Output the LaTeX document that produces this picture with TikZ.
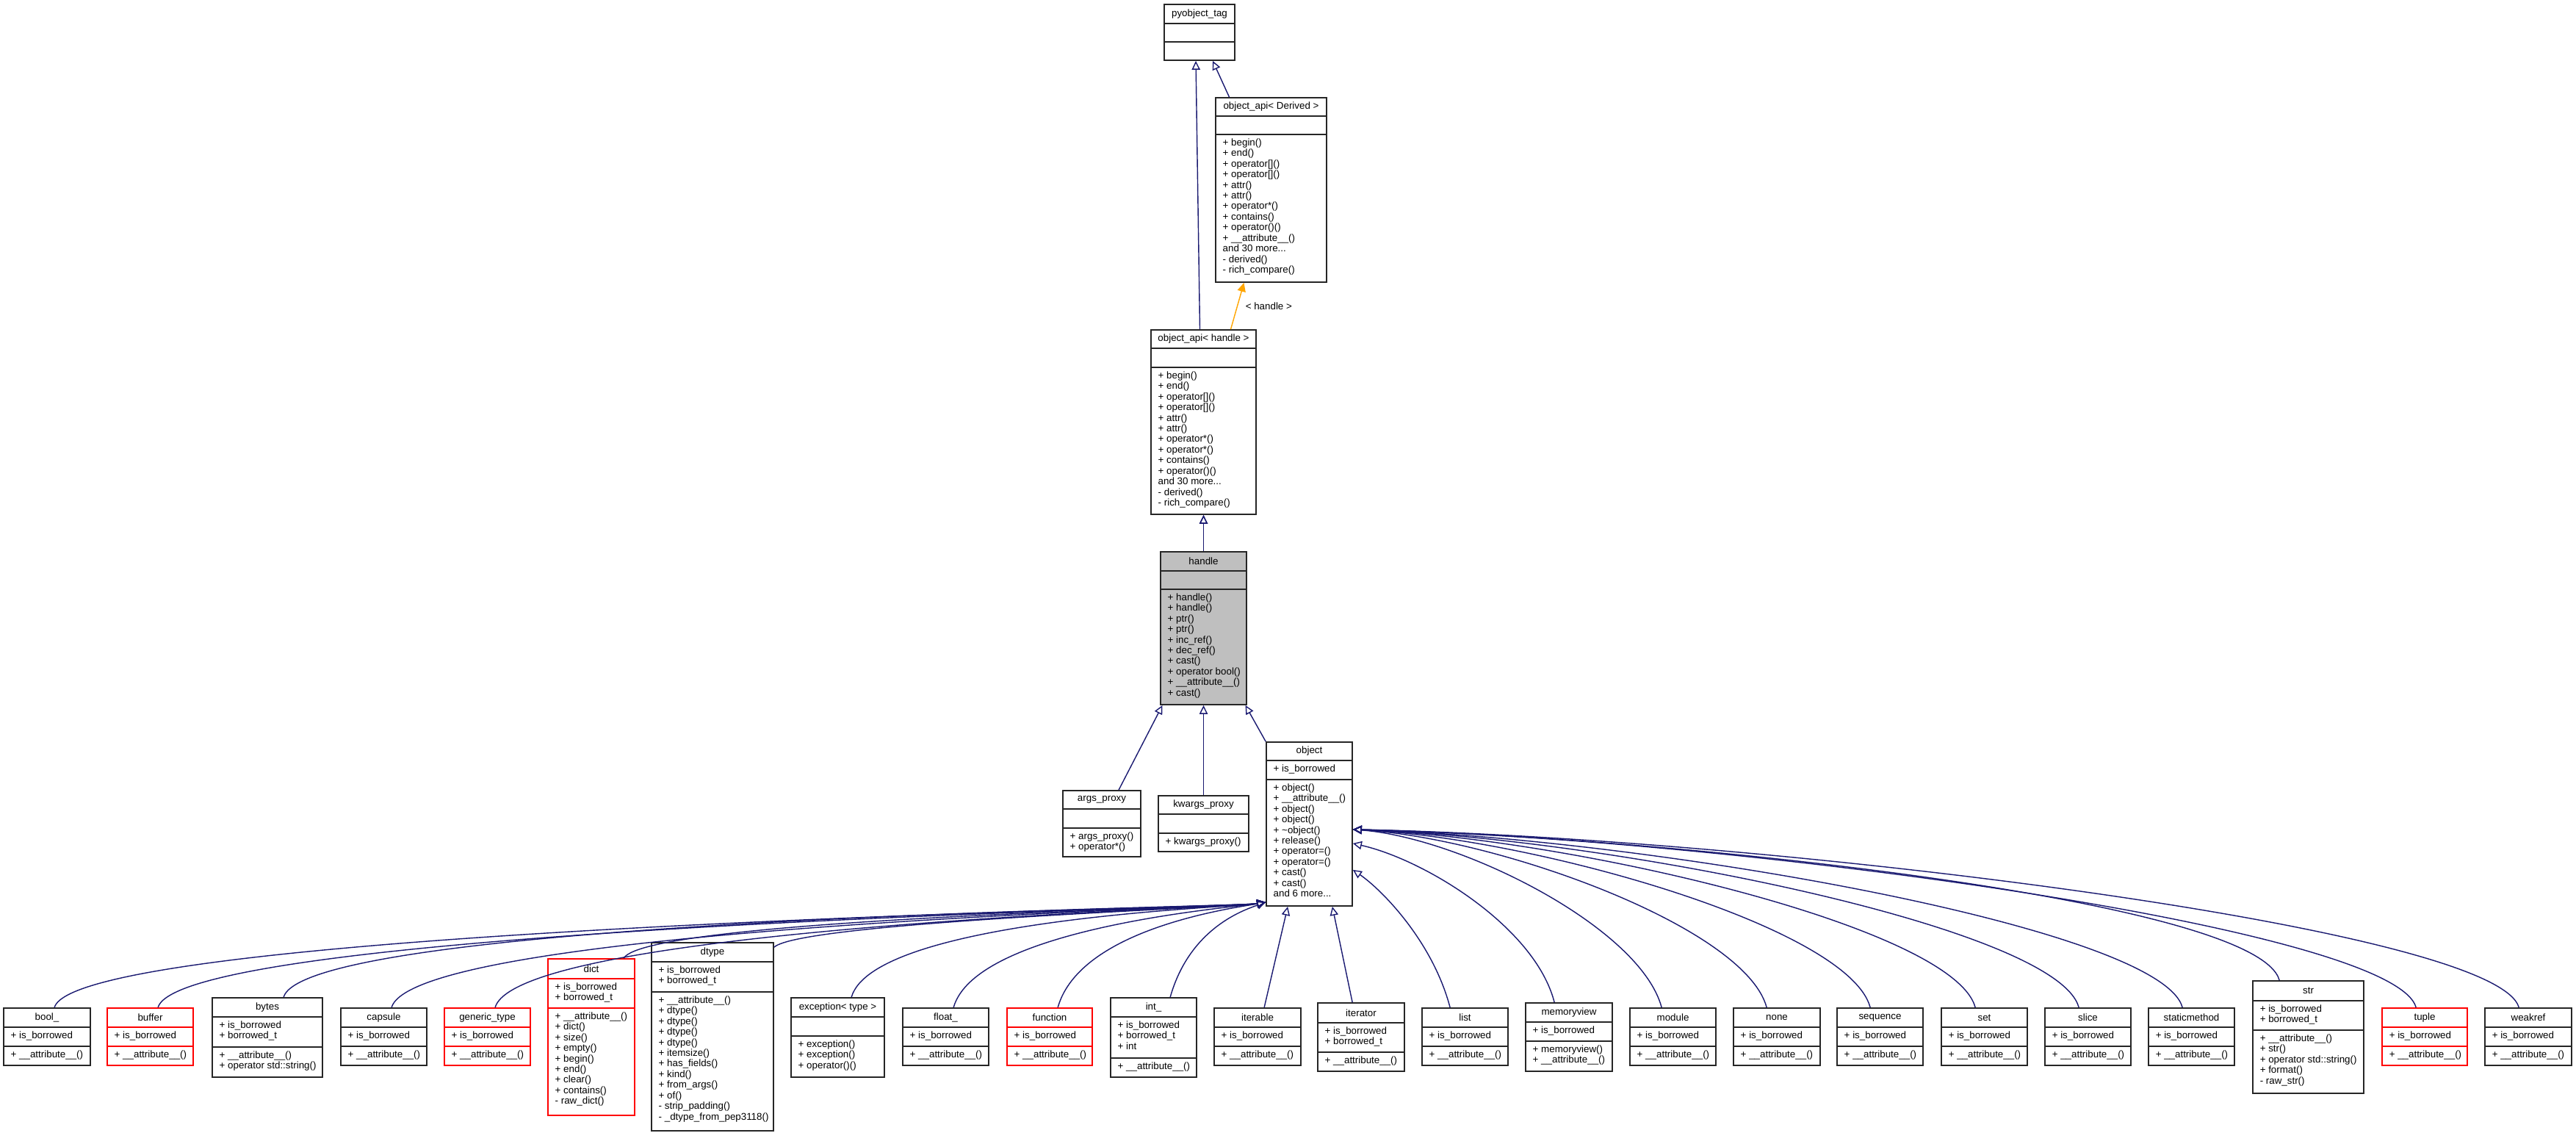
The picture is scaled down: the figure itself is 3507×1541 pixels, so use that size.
\documentclass[tikz,border=0pt]{standalone}
\usepackage{fontspec}
\setmainfont{Liberation Sans}
\usetikzlibrary{arrows.meta,fit}
\definecolor{edge}{HTML}{191970}
\definecolor{orng}{HTML}{FFA500}
\tikzset{
  bk/.style={draw=black!85, line width=0.5pt},
  rd/.style={draw=red, line width=0.5pt},
  hd/.style={draw=black!85, fill=black!25, line width=0.5pt},
  utitle/.style={inner sep=0, font=\fontsize{3.8}{4.1}\selectfont},
  umem/.style={anchor=north west, inner sep=0, align=left, font=\fontsize{3.8}{4.1}\selectfont},
  inh/.style={draw=edge, line width=0.4pt, -{Triangle[open,length=3.4pt,width=3.2pt]}},
  tmpl/.style={draw=orng, line width=0.4pt, -{Triangle[length=3.4pt,width=3.2pt]}},
}
\newcommand\ubox[9]{%
  \node[#8, inner sep=0, fit={(#2,#4)(#3,#7)}] (#1) {};
  \draw[#8, fill=none] (#2,#5) -- (#3,#5) (#2,#6) -- (#3,#6);
  \node[utitle] at ({(#2+#3)/2},{(#4+#5)/2}) {#9};
}
\newcommand\umem[3]{\node[umem] at (#1+9,#2+5) {#3};}
\newcommand\simple[5]{%
  \ubox{#1}{#2}{#3}{1372}{1398}{1424}{1450}{#4}{#5}
  \umem{#2}{1398}{+ is\_borrowed}
  \umem{#2}{1424}{+ \_\_attribute\_\_()}
}
\newcommand\inh[4]{\draw[inh] #1 .. controls #2 and #3 .. #4;}
\begin{document}
\begin{tikzpicture}[x=0.01cm,y=-0.01cm]
\useasboundingbox (0,0) rectangle (3507,1541);
% top
\ubox{pyo}{1585}{1681}{6}{32}{57}{82}{bk}{pyobject\_tag}
\ubox{apid}{1655}{1806}{133}{158}{183}{384}{bk}{object\_api< Derived >}
\umem{1655}{183}{+ begin()\\+ end()\\+ operator[]()\\+ operator[]()\\+ attr()\\+ attr()\\+ operator*()\\+ contains()\\+ operator()()\\+ \_\_attribute\_\_()\\and 30 more...\\- derived()\\- rich\_compare()}
\ubox{apih}{1567}{1710}{449}{474}{500}{700}{bk}{object\_api< handle >}
\umem{1567}{500}{+ begin()\\+ end()\\+ operator[]()\\+ operator[]()\\+ attr()\\+ attr()\\+ operator*()\\+ operator*()\\+ contains()\\+ operator()()\\and 30 more...\\- derived()\\- rich\_compare()}
\ubox{handle}{1580}{1697}{751}{777}{802}{959}{hd}{handle}
\umem{1580}{802}{+ handle()\\+ handle()\\+ ptr()\\+ ptr()\\+ inc\_ref()\\+ dec\_ref()\\+ cast()\\+ operator bool()\\+ \_\_attribute\_\_()\\+ cast()}
\ubox{args}{1447}{1553}{1076}{1101}{1127}{1166}{bk}{args\_proxy}
\umem{1447}{1127}{+ args\_proxy()\\+ operator*()}
\ubox{kwargs}{1577}{1700}{1083}{1108}{1134}{1159}{bk}{kwargs\_proxy}
\umem{1577}{1134}{+ kwargs\_proxy()}
\ubox{object}{1724}{1841}{1010}{1035}{1061}{1233}{bk}{object}
\umem{1724}{1035}{+ is\_borrowed}
\umem{1724}{1061}{+ object()\\+ \_\_attribute\_\_()\\+ object()\\+ object()\\+ \textasciitilde object()\\+ release()\\+ operator=()\\+ operator=()\\+ cast()\\+ cast()\\and 6 more...}
% bottom row
\simple{bool}{5}{123}{bk}{bool\_}
\simple{buffer}{146}{263}{rd}{buffer}
\ubox{bytes}{289}{439}{1358}{1384}{1425}{1466}{bk}{bytes}
\umem{289}{1384}{+ is\_borrowed\\+ borrowed\_t}
\umem{289}{1425}{+ \_\_attribute\_\_()\\+ operator std::string()}
\simple{capsule}{464}{581}{bk}{capsule}
\simple{generic}{605}{722}{rd}{generic\_type}
\ubox{dict}{746}{864}{1305}{1332}{1372}{1518}{rd}{dict}
\umem{746}{1332}{+ is\_borrowed\\+ borrowed\_t}
\umem{746}{1372}{+ \_\_attribute\_\_()\\+ dict()\\+ size()\\+ empty()\\+ begin()\\+ end()\\+ clear()\\+ contains()\\- raw\_dict()}
\ubox{dtype}{887}{1053}{1283}{1309}{1350}{1539}{bk}{dtype}
\umem{887}{1309}{+ is\_borrowed\\+ borrowed\_t}
\umem{887}{1350}{+ \_\_attribute\_\_()\\+ dtype()\\+ dtype()\\+ dtype()\\+ dtype()\\+ itemsize()\\+ has\_fields()\\+ kind()\\+ from\_args()\\+ of()\\- strip\_padding()\\- \_dtype\_from\_pep3118()}
\ubox{exception}{1077}{1204}{1358}{1384}{1410}{1466}{bk}{exception< type >}
\umem{1077}{1410}{+ exception()\\+ exception()\\+ operator()()}
\simple{float}{1229}{1346}{bk}{float\_}
\simple{function}{1371}{1487}{rd}{function}
\ubox{int}{1512}{1629}{1358}{1384}{1440}{1466}{bk}{int\_}
\umem{1512}{1384}{+ is\_borrowed\\+ borrowed\_t\\+ int}
\umem{1512}{1440}{+ \_\_attribute\_\_()}
\simple{iterable}{1653}{1771}{bk}{iterable}
\ubox{iterator}{1794}{1912}{1365}{1392}{1432}{1458}{bk}{iterator}
\umem{1794}{1392}{+ is\_borrowed\\+ borrowed\_t}
\umem{1794}{1432}{+ \_\_attribute\_\_()}
\simple{list}{1936}{2053}{bk}{list}
\ubox{memoryview}{2077}{2195}{1365}{1391}{1417}{1458}{bk}{memoryview}
\umem{2077}{1391}{+ is\_borrowed}
\umem{2077}{1417}{+ memoryview()\\+ \_\_attribute\_\_()}
\simple{module}{2219}{2336}{bk}{module}
\simple{none}{2360}{2478}{bk}{none}
\simple{sequence}{2501}{2618}{bk}{sequence}
\simple{set}{2643}{2760}{bk}{set}
\simple{slice}{2784}{2901}{bk}{slice}
\simple{staticmethod}{2925}{3042}{bk}{staticmethod}
\ubox{str}{3067}{3218}{1335}{1362}{1402}{1488}{bk}{str}
\umem{3067}{1362}{+ is\_borrowed\\+ borrowed\_t}
\umem{3067}{1402}{+ \_\_attribute\_\_()\\+ str()\\+ operator std::string()\\+ format()\\- raw\_str()}
\simple{tuple}{3243}{3359}{rd}{tuple}
\simple{weakref}{3383}{3501}{bk}{weakref}
% upper edges
\draw[inh] ([shift={(-5,0)}]apih.north) -- ([shift={(-5,0)}]pyo.south);
\draw[inh] ([shift={(-57,0)}]apid.north) -- ([shift={(18,0)}]pyo.south);
\draw[tmpl] ([shift={(37,0)}]apih.north) -- node[right, utitle, pos=0.5, xshift=3pt] {< handle >} ([shift={(-37,0)}]apid.south);
\draw[inh] (handle.north) ++(0,0) (apih.south) ++(0,0);
\draw[inh] (handle.north) -- (apih.south);
\draw[inh] ([shift={(23,0)}]args.north) -- ([shift={(-56,0)}]handle.south);
\draw[inh] (kwargs.north) -- (handle.south);
\draw[inh] (object.north west) -- ([shift={(57,0)}]handle.south);
% object children, left
\inh{([shift={(70,0)}]bool.north west)}{(105,1262)}{(1680,1235)}{([shift={(0,-6)}]object.south west)}
\inh{([shift={(70,0)}]buffer.north west)}{(246,1262)}{(1680,1235)}{([shift={(0,-6)}]object.south west)}
\inh{([shift={(98,0)}]bytes.north west)}{(417,1250)}{(1680,1235)}{([shift={(0,-6)}]object.south west)}
\inh{([shift={(70,0)}]capsule.north west)}{(564,1262)}{(1680,1235)}{([shift={(0,-6)}]object.south west)}
\inh{([shift={(70,0)}]generic.north west)}{(705,1262)}{(1680,1235)}{([shift={(0,-6)}]object.south west)}
\inh{([shift={(104,0)}]dict.north west)}{(880,1250)}{(1680,1235)}{([shift={(0,-6)}]object.south west)}
\inh{([shift={(0,7)}]dtype.north east)}{(1090,1255)}{(1680,1235)}{([shift={(0,-6)}]object.south west)}
\inh{([shift={(83,0)}]exception.north west)}{(1190,1250)}{(1680,1235)}{([shift={(0,-6)}]object.south west)}
\inh{([shift={(70,0)}]float.north west)}{(1329,1262)}{(1680,1235)}{([shift={(0,-6)}]object.south west)}
\inh{([shift={(70,0)}]function.north west)}{(1471,1262)}{(1685,1235)}{([shift={(0,-6)}]object.south west)}
\inh{([shift={(82,0)}]int.north west)}{(1620,1262)}{(1695,1238)}{([shift={(0,-6)}]object.south west)}
% bottom
\draw[inh] ([shift={(69,0)}]iterable.north west) -- ([shift={(30,0)}]object.south west);
\draw[inh] ([shift={(48,0)}]iterator.north west) -- ([shift={(-28,0)}]object.south east);
% right
\inh{([shift={(39,0)}]list.north west)}{(1950,1280)}{(1880,1210)}{([shift={(0,-50)}]object.south east)}
\inh{([shift={(40,0)}]memoryview.north west)}{(2090,1262)}{(1940,1170)}{([shift={(0,-86)}]object.south east)}
\inh{([shift={(44,0)}]module.north west)}{(2233,1262)}{(1989,1140)}{([shift={(0,-105)}]object.south east)}
\inh{([shift={(46,0)}]none.north west)}{(2376,1262)}{(2039,1140)}{([shift={(0,-105)}]object.south east)}
\inh{([shift={(46,0)}]sequence.north west)}{(2517,1262)}{(2088,1140)}{([shift={(0,-105)}]object.south east)}
\inh{([shift={(47,0)}]set.north west)}{(2660,1262)}{(2138,1140)}{([shift={(0,-105)}]object.south east)}
\inh{([shift={(47,0)}]slice.north west)}{(2801,1262)}{(2188,1140)}{([shift={(0,-105)}]object.south east)}
\inh{([shift={(47,0)}]staticmethod.north west)}{(2942,1262)}{(2237,1140)}{([shift={(0,-105)}]object.south east)}
\inh{([shift={(37,0)}]str.north west)}{(3074,1225)}{(2283,1140)}{([shift={(0,-105)}]object.south east)}
\inh{([shift={(47,0)}]tuple.north west)}{(3260,1262)}{(2348,1140)}{([shift={(0,-105)}]object.south east)}
\inh{([shift={(47,0)}]weakref.north west)}{(3400,1262)}{(2397,1140)}{([shift={(0,-105)}]object.south east)}
\end{tikzpicture}
\end{document}
